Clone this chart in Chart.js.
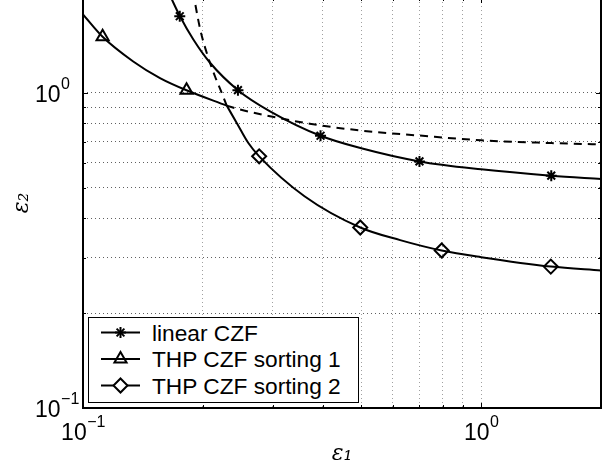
<!DOCTYPE html>
<html><head><meta charset="utf-8">
<script src="https://cdn.jsdelivr.net/npm/chart.js@4/dist/chart.umd.min.js"></script>
<style>
html,body{margin:0;padding:0;background:#fff;overflow:hidden}
#wrap{position:relative;width:615px;height:472px;overflow:hidden;background:#fff}
#c{position:absolute;left:0;top:-2px}
#legend{position:absolute;background:#fff;border:1.5px solid #000;box-sizing:border-box;font-family:"Liberation Sans",Arial,sans-serif;font-size:22.7px;color:#000}
#legend .row{position:absolute;left:0;height:26px;line-height:26px;white-space:nowrap}
#legend svg{position:absolute;left:0;top:0}
</style></head><body>
<div id="wrap"><canvas id="c" width="615" height="474"></canvas><div id="legend"></div></div>
<script>
// ---- data ----
const seriesNames = ['linear CZF', 'THP CZF sorting 1', 'THP CZF sorting 2'];

const linCurveX = [0.165, 0.1752, 0.1893, 0.2085, 0.245, 0.295, 0.395, 0.5, 0.70, 1.0, 1.5, 2.0];
const linCurveY = [2.05, 1.75, 1.477, 1.246, 1.02, 0.874, 0.731, 0.667, 0.606, 0.572, 0.546, 0.533];
const linMarkX = [0.175, 0.245, 0.395, 0.70, 1.5];
const linMarkY = [1.75, 1.02, 0.731, 0.606, 0.546];

const s1SolidX = [0.1, 0.112, 0.1337, 0.1561, 0.182, 0.2296];
const s1SolidY = [1.774, 1.507, 1.258, 1.114, 1.019, 0.911];
const s1DashX = [0.2296, 0.2481, 0.295, 0.371, 0.5, 0.7, 1.0, 1.5, 2.0];
const s1DashY = [0.911, 0.885, 0.843, 0.798, 0.759, 0.732, 0.707, 0.693, 0.686];
const s1MarkX = [0.112, 0.182];
const s1MarkY = [1.507, 1.019];

const s2DashX = [0.1888, 0.197, 0.2064, 0.2145, 0.2231, 0.2296];
const s2DashY = [2.1, 1.589, 1.292, 1.129, 1.0, 0.911];
const s2SolidX = [0.2296, 0.2433, 0.2602, 0.277, 0.36, 0.497, 0.626, 0.796, 1.0, 1.496, 2.0];
const s2SolidY = [0.911, 0.803, 0.693, 0.629, 0.47, 0.374, 0.341, 0.316, 0.301, 0.281, 0.273];
const s2MarkX = [0.277, 0.497, 0.796, 1.496];
const s2MarkY = [0.629, 0.374, 0.316, 0.281];

const xGrid = [0.1,0.2,0.3,0.4,0.5,0.6,0.7,0.8,0.9,1,2];
const yGrid = [0.1,0.2,0.3,0.4,0.5,0.6,0.7,0.8,0.9,1,2];
const xLabelValues = [0.1, 1];
const xLabelExps = ['\u22121', '0'];
const yLabelValues = [0.1, 1];
const yLabelExps = ['\u22121', '0'];
const xTitle = '\u03b5\u2081';
const yTitle = '\u03b5\u2082';

// ---- helpers ----
const pts = (xs, ys) => xs.map((x, i) => ({x, y: ys[i]}));
const curve = (xs, ys, dash) => ({
  data: pts(xs, ys), borderColor: '#000', borderWidth: 2, pointRadius: 0,
  cubicInterpolationMode: 'monotone', fill: false, borderDash: dash || []
});
const marks = (xs, ys, style, r) => ({
  data: pts(xs, ys), showLine: false, pointStyle: style, pointRadius: r,
  pointBorderWidth: 2, pointBorderColor: '#000', pointBackgroundColor: 'rgba(0,0,0,0)'
});

const SANS = '"Liberation Sans", Arial, sans-serif';

const axesPlugin = {
  id: 'axesPlugin',
  afterDraw(chart) {
    const ctx = chart.ctx, ca = chart.chartArea, xs = chart.scales.x, ys = chart.scales.y;
    ctx.save();
    ctx.strokeStyle = '#000';
    ctx.lineWidth = 1;
    const seg = (x1, y1, x2, y2) => { ctx.beginPath(); ctx.moveTo(x1, y1); ctx.lineTo(x2, y2); ctx.stroke(); };
    xGrid.forEach(v => {
      const px = Math.round(xs.getPixelForValue(v)) + 0.5;
      const L = xLabelValues.includes(v) ? 5 : 3;
      seg(px, ca.bottom, px, ca.bottom - L);
      seg(px, ca.top, px, ca.top + L);
    });
    yGrid.forEach(v => {
      const py = Math.round(ys.getPixelForValue(v)) + 0.5;
      const L = yLabelValues.includes(v) ? 5 : 3;
      seg(ca.left, py, ca.left + L, py);
      seg(ca.right, py, ca.right - L, py);
    });
    ctx.lineWidth = 2;
    ctx.strokeRect(ca.left, ca.top, ca.right - ca.left, ca.bottom - ca.top);
    ctx.fillStyle = '#000';
    ctx.textBaseline = 'alphabetic';
    ctx.textAlign = 'left';
    const baseFont = '23px ' + SANS, expFont = '16px ' + SANS;
    xLabelValues.forEach((v, i) => {
      const px = xs.getPixelForValue(v);
      ctx.font = baseFont; const w1 = ctx.measureText('10').width;
      ctx.font = expFont; const w2 = ctx.measureText(xLabelExps[i]).width;
      const x0 = px - (w1 + w2) / 2, by = ca.bottom + 32;
      ctx.font = baseFont; ctx.fillText('10', x0, by);
      ctx.font = expFont; ctx.fillText(xLabelExps[i], x0 + w1 + 0.5, by - 13);
    });
    yLabelValues.forEach((v, i) => {
      const py = ys.getPixelForValue(v);
      ctx.font = baseFont; const w1 = ctx.measureText('10').width;
      const x0 = ca.left - 48, by = py + 9.3;
      ctx.fillText('10', x0, by);
      ctx.font = expFont; ctx.fillText(yLabelExps[i], x0 + w1 + 0.5, by - 13);
    });
    ctx.restore();
  }
};

const chart = new Chart(document.getElementById('c'), {
  type: 'line',
  data: { datasets: [
    curve(linCurveX, linCurveY),
    curve(s1SolidX, s1SolidY),
    curve(s1DashX, s1DashY, [8, 6]),
    curve(s2DashX, s2DashY, [8, 6]),
    curve(s2SolidX, s2SolidY),
    marks(linMarkX, linMarkY, 'star', 5.5),
    marks(s1MarkX, s1MarkY, 'triangle', 7),
    marks(s2MarkX, s2MarkY, 'rectRot', 7)
  ]},
  options: {
    responsive: false, animation: false, devicePixelRatio: 1, events: [],
    layout: { autoPadding: false, padding: { left: 0, right: 14, top: 0, bottom: 0 } },
    plugins: { legend: { display: false }, tooltip: { enabled: false } },
    scales: {
      x: {
        type: 'logarithmic', position: 'bottom', min: 0.1, max: 2,
        afterBuildTicks: s => { s.ticks = xGrid.map(v => ({ value: v })); },
        afterFit: s => { s.height = 64; },
        ticks: { display: false },
        grid: { color: '#a0a0a0', lineWidth: 1, drawTicks: false },
        border: { display: false, dash: [1, 3] },
        title: { display: true, text: xTitle, color: '#000',
          font: { family: 'DejaVu Serif', style: 'italic', size: 22 }, padding: { top: 0, bottom: 5 } }
      },
      y: {
        type: 'logarithmic', position: 'left', min: 0.1, max: 2,
        afterBuildTicks: s => { s.ticks = yGrid.map(v => ({ value: v })); },
        afterFit: s => { s.width = 83; },
        ticks: { display: false },
        grid: { color: '#606060', lineWidth: 1, drawTicks: false },
        border: { display: false, dash: [1, 3] },
        title: { display: true, text: yTitle, color: '#000',
          font: { family: 'DejaVu Serif', style: 'italic', size: 22 }, padding: { top: 9, bottom: 0 } }
      }
    }
  },
  plugins: [axesPlugin]
});

(function buildLegend() {
  const ca = chart.chartArea;
  const canvasTop = -2;
  const lg = document.getElementById('legend');
  const W = 271, H = 85.5;
  lg.style.left = (ca.left + 5) + 'px';
  lg.style.top = (ca.bottom + canvasTop - 5.5 - H) + 'px';
  lg.style.width = W + 'px';
  lg.style.height = H + 'px';
  const rowsY = [14.5, 41, 67.5];
  const mx = 31.5;
  let svg = `<svg width="${W}" height="${H}" xmlns="http://www.w3.org/2000/svg" style="overflow:visible"><g stroke="#000" stroke-width="2" fill="none">`;
  rowsY.forEach((y, i) => {
    svg += `<line x1="12" y1="${y}" x2="51" y2="${y}"/>`;
    if (i === 0) {
      const r = 5.5, d = r * Math.SQRT1_2;
      svg += `<line x1="${mx-r}" y1="${y}" x2="${mx+r}" y2="${y}"/><line x1="${mx}" y1="${y-r}" x2="${mx}" y2="${y+r}"/>`;
      svg += `<line x1="${mx-d}" y1="${y-d}" x2="${mx+d}" y2="${y+d}"/><line x1="${mx-d}" y1="${y+d}" x2="${mx+d}" y2="${y-d}"/>`;
    } else if (i === 1) {
      const r = 7;
      svg += `<polygon points="${mx},${y-r} ${mx+r*0.866},${y+r/2} ${mx-r*0.866},${y+r/2}" fill="#fff"/>`;
      svg += `<line x1="12" y1="${y}" x2="51" y2="${y}"/>`;
    } else {
      const r = 7;
      svg += `<polygon points="${mx},${y-r} ${mx+r},${y} ${mx},${y+r} ${mx-r},${y}" fill="#fff"/>`;
    }
  });
  svg += '</g></svg>';
  let html = svg;
  rowsY.forEach((y, i) => {
    html += `<div class="row" style="left:63px;top:${y-13}px">${seriesNames[i]}</div>`;
  });
  lg.innerHTML = html;
})();
</script>
</body></html>
